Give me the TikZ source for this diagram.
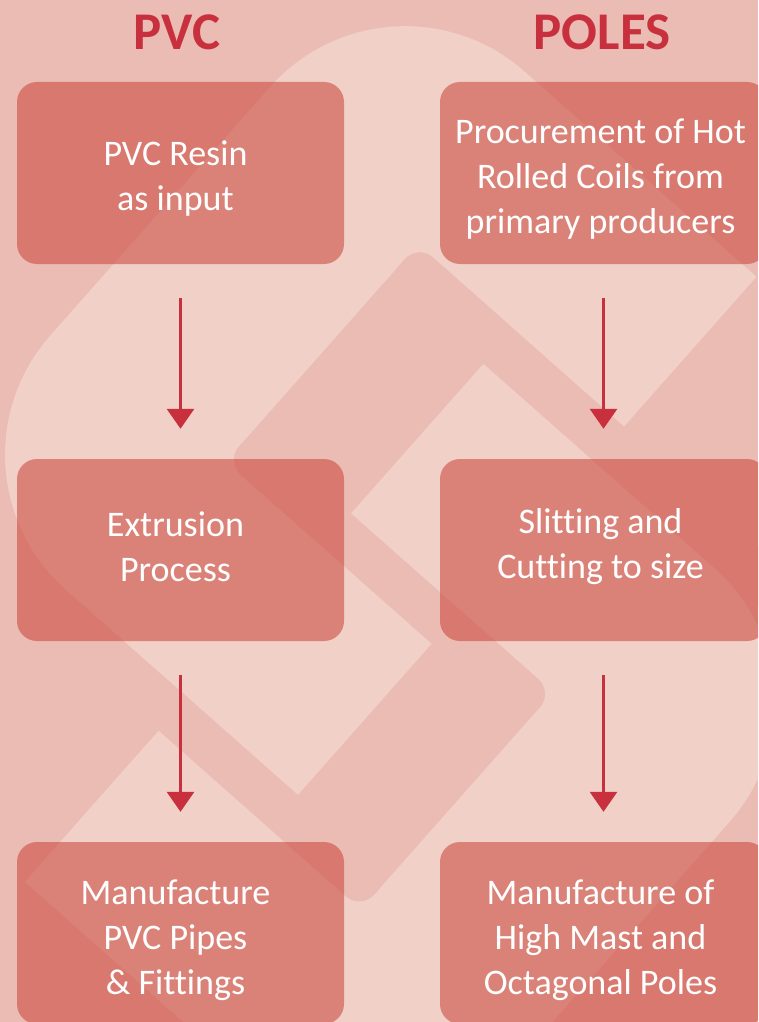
\documentclass[tikz,border=0pt]{standalone}
\usepackage{fontspec}
\setmainfont{Carlito}[Ligatures=NoCommon]
\usetikzlibrary{arrows.meta}
\definecolor{bg-dark}{RGB}{235,188,179}
\definecolor{bg-light}{RGB}{241,208,199}
\definecolor{box-red}{RGB}{199,54,42}
\definecolor{title-red}{RGB}{201,48,62}

\tikzset{
  procbox/.style={fill=box-red, fill opacity=0.5, rounded corners=20pt,
    minimum width=327pt, minimum height=182pt, inner sep=0pt},
  proctext/.style={text=white, align=center, inner sep=0pt,
    font=\fontsize{36}{45}\selectfont},
  header/.style={text=title-red, anchor=base,
    font=\fontsize{53}{60}\selectfont\bfseries},
  flowarrow/.style={draw=title-red, line width=3pt,
    -{Triangle[width=27pt,length=20pt]}, shorten <=34pt, shorten >=30pt},
}

\begin{document}
\begin{tikzpicture}[x=1pt, y=-1pt]
    \useasboundingbox (0,0) rectangle (758,1022);
    \clip (0,0) rectangle (758,1022);
    \fill[bg-dark] (0,0) rectangle (758,1022);

    % faded logo behind the chart
    \begin{scope}[rotate=-41.5]
      \begin{scope}
        \clip (-2000,-2000) rectangle (750,2000);
        \fill[bg-light, rounded corners=180pt] (260,-294) rectangle (1400,398);
      \end{scope}
      \begin{scope}
        \clip (603,-2000) rectangle (3000,2000);
        \fill[bg-light, rounded corners=180pt] (200,-48) rectangle (1091,644);
      \end{scope}
      \fill[bg-dark, rounded corners=20pt] (475,-94) rectangle (1400,-48);
      \fill[bg-dark, rounded corners=20pt] (475,-94) rectangle (603,196);
      \fill[bg-dark, rounded corners=20pt] (475,152) rectangle (873,196);
      \fill[bg-dark, rounded corners=20pt] (750,152) rectangle (873,442);
      \fill[bg-dark, rounded corners=20pt] (560,398) rectangle (873,442);
    \end{scope}

    \node[header] (pvcTitle) at (177,50) {PVC};
    \node[header] (polesTitle) at (602,50) {POLES};

    % PVC column
    \node[procbox] (resin) at (180.5,173) {};
    \node[procbox] (extrusion) at (180.5,550) {};
    \node[procbox] (pvcpipes) at (180.5,933) {};
    \node[proctext] (resinText) at ([xshift=-5pt,yshift=-6pt]resin.center) {PVC Resin\\as input};
    \node[proctext] (extrusionText) at ([xshift=-5pt,yshift=3pt]extrusion.center) {Extrusion\\Process};
    \node[proctext] (pvcpipesText) at ([xshift=-5pt,yshift=-7pt]pvcpipes.center) {Manufacture\\PVC Pipes\\\& Fittings};

    % poles column
    \node[procbox] (coils) at (603.5,173) {};
    \node[procbox] (slitting) at (603.5,550) {};
    \node[procbox] (mastpoles) at (603.5,933) {};
    \node[proctext] (coilsText) at ([xshift=-3pt,yshift=-6pt]coils.center) {Procurement of Hot\\Rolled Coils from\\primary producers};
    \node[proctext] (slittingText) at ([xshift=-3pt,yshift=3pt]slitting.center) {Slitting and\\Cutting to size};
    \node[proctext] (mastpolesText) at ([xshift=-3pt,yshift=-7pt]mastpoles.center) {Manufacture of\\High Mast and\\Octagonal Poles};

    \draw[flowarrow] (resin) -- (extrusion);
    \draw[flowarrow] (extrusion) -- (pvcpipes);
    \draw[flowarrow] (coils) -- (slitting);
    \draw[flowarrow] (slitting) -- (mastpoles);
\end{tikzpicture}
\end{document}
